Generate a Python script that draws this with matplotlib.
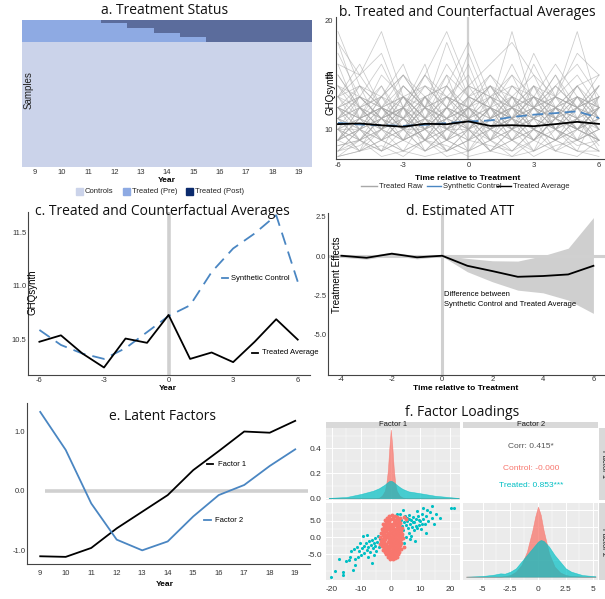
"""Painel de seis graficos: status, medias, ATT, fatores e loadings."""

import matplotlib
matplotlib.use("Agg")
import matplotlib.pyplot as plt
import numpy as np
from matplotlib.colors import ListedColormap
from matplotlib.lines import Line2D
from matplotlib.patches import Rectangle

W, H = 605, 599
TITLE_FONT = "Open Sans"
BODY_FONT = "Liberation Sans"

plt.rcParams.update({
    "font.family": BODY_FONT,
    "font.size": 5.5,
    "axes.unicode_minus": False,
    "axes.edgecolor": "#444444",
    "axes.linewidth": 0.8,
    "xtick.color": "#333333",
    "ytick.color": "#333333",
    "xtick.major.size": 0,
    "ytick.major.size": 0,
    "xtick.minor.size": 0,
    "ytick.minor.size": 0,
})

# paleta
C_CTRL = "#CBD3EA"
C_PRE = "#8EAAE3"
C_POST = "#5B6C9C"
C_POST_KEY = "#0B2A6D"
C_BLUE = "#4A86C2"
C_RAW = "#A8A8A8"
C_REF = "#D0D0D0"
C_RED = "#F8766D"
C_TEAL = "#00BFC4"
C_PANEL = "#EBEBEB"
C_STRIP = "#D9D9D9"

# ---- dados -------------------------------------------------------------
# a. status de tratamento
YEARS = list(range(9, 20))
COHORT_START = [12, 13, 14, 15, 16]
COHORT_SIZE = [20, 35, 35, 30, 30]
N_CONTROLS = 870

# b/c. medias tratadas e controle sintetico
REL_TIME = list(range(-6, 7))
TREATED_AVG = [10.48, 10.54, 10.37, 10.24, 10.51, 10.47, 10.73,
               10.32, 10.38, 10.29, 10.48, 10.69, 10.50]
SYNTH_CTRL = [10.59, 10.45, 10.37, 10.32, 10.42, 10.57, 10.72,
              10.82, 11.13, 11.35, 11.49, 11.66, 11.04]
RAW_SERIES = [
    [9, 11, 10, 12, 9, 10, 11, 8, 10, 9, 11, 10, 9],
    [12, 10, 13, 11, 10, 12, 14, 11, 13, 10, 12, 11, 13],
    [8, 9, 8, 10, 8, 9, 8, 9, 10, 8, 9, 8, 8],
    [15, 12, 11, 14, 12, 15, 13, 12, 16, 12, 11, 13, 12],
    [10, 8, 9, 8, 11, 9, 10, 12, 9, 11, 10, 9, 10],
    [11, 13, 12, 10, 13, 11, 12, 10, 11, 13, 12, 14, 11],
    [7.5, 8, 9, 8, 7.5, 8, 10, 8, 7.5, 9, 8, 7.5, 9],
    [13, 15, 12, 13, 11, 14, 12, 15, 12, 14, 13, 12, 15],
    [19, 14, 12, 11, 13, 10, 12, 11, 14, 12, 10, 12, 11],
    [9, 10, 12, 9, 10, 8, 9, 10, 8, 10, 9, 11, 8],
    [12, 11, 9, 12, 14, 12, 11, 13, 10, 12, 15, 11, 12],
    [10, 12, 11, 9, 10, 11, 13, 9, 12, 10, 9, 10, 11],
    [14, 11, 15, 13, 10, 12, 11, 14, 11, 16, 12, 13, 10],
    [8, 8.5, 10, 11, 9, 8, 9, 11, 9, 8, 10, 9, 10],
    [11, 9, 10, 13, 11, 9, 10, 12, 11, 9, 11, 12, 9],
    [17, 13, 11, 12, 15, 13, 10, 12, 13, 11, 14, 12, 14],
    [9, 12, 9, 10, 12, 10, 11, 9, 10, 12, 10, 8, 12],
    [12, 14, 13, 15, 12, 11, 14, 13, 12, 11, 13, 15, 12],
    [10, 9, 11, 10, 8, 10, 12, 10, 11, 9, 12, 10, 11],
    [13, 10, 12, 11, 13, 14, 11, 10, 14, 13, 11, 12, 13],
    [8, 10, 8, 9, 10, 9, 8, 10, 9, 11, 8, 9, 8],
    [11, 12, 10, 14, 12, 13, 15, 11, 12, 10, 12, 13, 11],
    [16, 15, 19, 13, 11, 12, 14, 13, 11, 12, 13, 11, 12],
    [9, 11, 10, 8, 9, 12, 10, 8, 10, 9, 11, 10, 9],
    [12, 13, 11, 12, 16, 10, 12, 14, 12, 13, 10, 11, 14],
    [10, 8, 12, 10, 11, 10, 9, 11, 12, 10, 9, 12, 10],
    [14, 12, 10, 13, 12, 18, 13, 12, 10, 14, 12, 10, 12],
    [8.5, 9, 11, 9, 8, 9, 11, 9, 8, 10, 9, 11, 8.5],
    [11, 10, 13, 12, 10, 11, 10, 13, 11, 12, 14, 12, 11],
    [13, 16, 12, 11, 14, 12, 16, 11, 13, 15, 11, 14, 12],
    [9, 10, 9, 11, 10, 12, 9, 10, 12, 11, 10, 9, 13],
    [12, 11, 14, 10, 12, 9, 13, 12, 10, 11, 13, 12, 10],
    [10, 13, 11, 12, 9, 11, 10, 12, 19, 12, 11, 10, 12],
    [11, 9, 12, 10, 13, 10, 12, 9, 11, 10, 12, 11, 9],
    [15, 12, 13, 16, 11, 13, 12, 14, 12, 13, 16, 13, 11],
    [9, 8, 10, 9, 11, 8, 10, 8, 9, 10, 8, 10, 9],
    [12, 10, 11, 13, 10, 14, 11, 13, 15, 11, 12, 10, 13],
    [10, 11, 9, 10, 12, 11, 8, 11, 10, 13, 10, 12, 10],
    [13, 11, 12, 10, 11, 13, 12, 10, 12, 11, 13, 19, 12],
    [11, 12, 10, 11, 9, 12, 11, 12, 10, 12, 9, 11, 10],
    [18, 15, 17, 12, 15, 19, 14, 16, 18, 15, 13, 17, 15],
    [7.5, 9, 7.5, 8, 9, 7.5, 8, 9, 7.5, 8, 9, 8, 7.5],
    [10, 11, 13, 10, 9, 11, 12, 10, 13, 11, 10, 13, 10],
    [8, 10, 9, 11, 9, 10, 9, 12, 9, 10, 11, 9, 11],
    [12, 9, 11, 12, 11, 15, 10, 11, 12, 14, 11, 10, 12],
    [14, 13, 16, 12, 13, 11, 13, 15, 13, 12, 14, 16, 13],
    [9, 12, 10, 9, 13, 9, 11, 10, 9, 12, 10, 11, 9],
    [11, 10, 8, 12, 10, 12, 10, 12, 11, 8, 12, 10, 12],
    [13, 12, 14, 11, 15, 12, 17, 12, 11, 13, 12, 14, 11],
    [10, 9, 10, 12, 8, 10, 11, 9, 13, 10, 9, 10, 12],
    [16, 11, 12, 14, 12, 11, 12, 13, 12, 17, 13, 12, 13],
    [7.5, 8, 8.5, 7.5, 9, 8.5, 7.5, 8, 9, 7.5, 8.5, 9, 8],
    [12, 13, 12, 13, 14, 13, 12, 14, 13, 12, 13, 12, 14],
    [9, 11, 12, 10, 11, 9, 12, 11, 10, 11, 12, 9, 10],
    [11, 14, 10, 12, 10, 13, 11, 10, 11, 14, 10, 13, 12],
    [10, 10, 11, 9, 12, 10, 10, 11, 12, 9, 11, 10, 11],
    [18, 12, 13, 15, 13, 14, 18, 13, 14, 12, 15, 12, 13],
    [8.5, 9, 8, 9, 10, 8, 9, 8.5, 8, 9, 10, 8.5, 9],
    [12, 11, 12, 11, 12, 13, 11, 12, 11, 12, 11, 13, 12],
    [11, 13, 11, 13, 11, 10, 13, 14, 11, 13, 12, 11, 14],
    [9, 10, 11, 10, 10, 11, 10, 9, 11, 10, 13, 10, 9],
    [13, 14, 12, 15, 12, 16, 13, 12, 15, 13, 11, 14, 15],
]

# d. ATT estimado
ATT_TIME = list(range(-4, 7))
ATT = [0.02, -0.11, 0.15, -0.08, 0.02, -0.62, -0.96, -1.32, -1.27, -1.17, -0.62]
ATT_LO = [-0.08, -0.2, 0.05, -0.18, -0.02, -1.0, -1.64, -2.17, -2.34, -2.8, -3.65]
ATT_HI = [0.12, 0.0, 0.25, 0.02, 0.05, -0.15, -0.3, -0.32, 0.02, 0.5, 2.45]

# e. fatores latentes
FACTOR1 = [-1.10, -1.11, -0.96, -0.63, -0.35, -0.07, 0.35, 0.67, 1.00, 0.98, 1.18]
FACTOR2 = [1.33, 0.69, -0.21, -0.82, -1.00, -0.85, -0.43, -0.07, 0.10, 0.42, 0.70]

# f. loadings: densidades marginais
F1_GRID = [-21, -15, -10, -6, -4, -3, -2, -1.5, -1, -0.5, 0, 0.5, 1, 1.5, 2,
           3, 4, 6, 10, 15, 23]
F1_DENS_CTRL = [0, 0, 0, 0, 0.004, 0.02, 0.06, 0.12, 0.22, 0.40, 0.55, 0.42,
                0.24, 0.12, 0.06, 0.02, 0.005, 0, 0, 0, 0]
F1_DENS_TREAT = [0.003, 0.01, 0.035, 0.06, 0.08, 0.095, 0.11, 0.12, 0.13, 0.138,
                 0.14, 0.136, 0.128, 0.118, 0.108, 0.09, 0.075, 0.055, 0.04,
                 0.02, 0.002]
F2_GRID = [-6.5, -5, -4, -3.4, -3, -2.5, -2, -1.5, -1, -0.5, -0.25, 0, 0.25,
           0.5, 1, 1.5, 2, 2.5, 3, 4, 5.2]
F2_DENS_CTRL = [0, 0, 0, 0, 0.003, 0.01, 0.03, 0.07, 0.15, 0.28, 0.36, 0.42,
                0.37, 0.28, 0.14, 0.06, 0.025, 0.01, 0.004, 0, 0]
F2_DENS_TREAT = [0.0, 0.004, 0.012, 0.02, 0.018, 0.03, 0.05, 0.09, 0.13, 0.17,
                 0.19, 0.21, 0.22, 0.215, 0.18, 0.13, 0.09, 0.05, 0.03, 0.01,
                 0.002]

# f. loadings: dispersao (fator 1, fator 2)
CTRL_PTS = [
    (-0.6, 6.6), (0.4, 6.9), (1.3, 6.4), (2.2, 6.1), (-1.4, 6.0), (0.9, 5.8),
    (3.0, 5.9), (-2.1, 5.3), (-1.0, 5.5), (0.0, 5.6), (1.0, 5.2), (2.0, 5.5),
    (2.8, 5.0), (-0.5, 4.9), (1.6, 4.8), (-1.6, 4.7), (-2.6, 4.2), (-1.9, 3.9),
    (-0.9, 4.3), (0.2, 4.1), (1.2, 4.4), (2.3, 4.1), (3.2, 4.3), (-0.3, 3.6),
    (0.8, 3.5), (1.8, 3.7), (2.9, 3.4), (-1.3, 3.4), (-2.4, 3.3), (-3.0, 2.7),
    (-2.0, 2.9), (-1.0, 2.6), (0.1, 2.9), (1.1, 2.6), (2.1, 2.8), (3.1, 2.5),
    (3.8, 2.9), (-2.5, 2.1), (-1.5, 2.0), (-0.4, 2.2), (0.6, 2.0), (1.6, 2.1),
    (2.6, 1.9), (3.5, 2.0), (-3.3, 1.4), (-2.2, 1.5), (-1.1, 1.3), (0.0, 1.5),
    (1.0, 1.2), (2.0, 1.4), (3.0, 1.3), (3.9, 1.1), (-2.7, 0.8), (-1.6, 0.7),
    (-0.5, 0.9), (0.5, 0.6), (1.5, 0.8), (2.5, 0.7), (3.5, 0.5), (-3.5, 0.1),
    (-2.3, 0.0), (-1.2, 0.2), (-0.1, -0.1), (0.9, 0.1), (1.9, -0.1), (2.9, 0.0),
    (4.0, -0.2), (-2.8, -0.6), (-1.8, -0.5), (-0.7, -0.7), (0.4, -0.5),
    (1.4, -0.6), (2.4, -0.7), (3.4, -0.5), (-3.2, -1.2), (-2.2, -1.1),
    (-1.1, -1.3), (0.0, -1.1), (1.0, -1.3), (2.0, -1.2), (3.0, -1.4),
    (-2.6, -1.8), (-1.5, -1.9), (-0.4, -1.7), (0.6, -1.9), (1.6, -1.8),
    (2.6, -1.9), (3.6, -1.6), (-3.0, -2.5), (-2.0, -2.4), (-0.9, -2.6),
    (0.2, -2.4), (1.2, -2.6), (2.2, -2.5), (3.2, -2.3), (-2.4, -3.1),
    (-1.3, -3.2), (-0.2, -3.0), (0.8, -3.2), (1.8, -3.1), (2.8, -3.0),
    (-2.6, -3.8), (-1.7, -3.9), (-0.6, -3.7), (0.4, -3.9), (1.4, -3.7),
    (2.4, -3.8), (3.3, -3.6), (-2.0, -4.5), (-1.0, -4.4), (0.0, -4.6),
    (1.0, -4.4), (2.0, -4.5), (2.9, -4.3), (-1.6, -5.1), (-0.6, -5.2),
    (0.5, -5.0), (1.5, -5.2), (2.4, -5.0), (-1.1, -5.8), (0.0, -5.9),
    (1.0, -5.7), (2.0, -5.8), (-0.4, -6.4), (0.6, -6.5), (1.5, -6.3),
    (4.6, 6.2), (5.2, 5.6), (-3.8, -2.0), (4.3, -3.0),
]
TREAT_PTS = [
    (-20.2, -11.8), (-16.3, -10.4), (-16.2, -11.3), (-17.6, -6.5),
    (-12.9, -9.8), (-13.4, -4.1), (-13.7, -5.8), (-12.1, -6.5), (-12.0, -8.3),
    (-11.1, -5.8), (-10.0, -5.3), (-8.9, -4.8), (-9.5, 0.5), (-6.5, -7.8),
    (-5.6, -5.3), (-15.0, -7.2), (-14.2, -6.9), (-10.8, -4.2), (-9.8, -3.2),
    (-9.0, -2.5), (-8.5, -1.6), (-8.2, -3.8), (-7.6, -2.9), (-7.3, -1.2),
    (-7.0, -4.4), (-6.8, -2.2), (-6.4, -0.8), (-6.1, -3.3), (-5.8, -1.8),
    (-5.5, -0.3), (-5.2, -2.6), (-4.9, -4.0), (-4.6, -1.4), (-4.3, 0.6),
    (-4.0, -2.9), (-3.8, -0.6), (-3.4, 1.5), (-11.5, -2.8), (-10.4, -1.7),
    (-8.0, 0.9), (-12.6, -3.5), (-7.8, -6.0), (-19.0, -10.0),
    (4.0, 8.3), (12.4, 8.3), (20.3, 9.0), (21.4, 9.0), (2.0, 7.0), (3.2, 7.0),
    (4.8, 6.5), (5.5, 5.8), (6.2, 6.9), (6.8, 5.2), (7.4, 6.1), (8.0, 4.6),
    (8.6, 5.5), (9.2, 6.4), (9.8, 4.9), (10.4, 7.2), (11.0, 5.7), (11.6, 4.2),
    (12.0, 6.6), (13.2, 7.6), (14.0, 5.8), (15.2, 7.0), (16.5, 6.0),
    (13.8, 9.5), (10.8, 9.0), (8.8, 8.1), (5.0, 3.8), (5.8, 2.9), (6.5, 4.0),
    (7.2, 3.1), (7.8, 2.2), (8.4, 3.6), (9.0, 2.8), (9.6, 3.9), (10.2, 2.5),
    (4.2, 2.2), (4.6, 4.6), (3.6, 5.2), (6.0, 1.4), (7.0, 0.6), (3.9, 0.8),
    (5.2, 0.2), (6.6, -0.5), (11.8, 1.5), (8.2, -1.0), (4.4, -1.8), (3.8, 3.5),
    (5.4, 5.0), (6.3, 5.6), (7.6, 4.7), (9.4, 5.2), (10.6, 4.0), (12.6, 4.9),
    (14.6, 4.0),
]


# ---- helpers -----------------------------------------------------------
def box(left, top, right, bottom):
    """Retangulo em pixels (origem topo-esquerda) -> coords da figura."""
    return [left / W, 1 - bottom / H, (right - left) / W, (bottom - top) / H]


def fx(x):
    return x / W


def fy(y):
    return 1 - y / H


def title(x, y, text):
    fig.text(fx(x), fy(y), text, family=TITLE_FONT, fontsize=10,
             ha="center", va="center", color="#111111")


def lspine(ax):
    ax.spines["top"].set_visible(False)
    ax.spines["right"].set_visible(False)


def gg_panel(ax):
    ax.set_facecolor(C_PANEL)
    for s in ax.spines.values():
        s.set_visible(False)
    ax.grid(True, which="major", color="white", linewidth=0.7)
    ax.grid(True, which="minor", color="white", linewidth=0.35)
    ax.set_axisbelow(True)


fig = plt.figure(figsize=(W / 100, H / 100), dpi=100)

# ---- a. Treatment Status ----------------------------------------------
rows = []
for start, size in zip(COHORT_START, COHORT_SIZE):
    rows += [[2 if yr >= start else 1 for yr in YEARS]] * size
rows += [[0] * len(YEARS)] * N_CONTROLS
status = np.array(rows)

ax = fig.add_axes(box(22, 20, 312, 167))
ax.imshow(status, cmap=ListedColormap([C_CTRL, C_PRE, C_POST]), vmin=0, vmax=2,
          aspect="auto", interpolation="nearest",
          extent=(YEARS[0] - 0.5, YEARS[-1] + 0.5, len(status), 0))
for s in ax.spines.values():
    s.set_visible(False)
ax.set_xticks(YEARS)
ax.set_yticks([])
ax.tick_params(axis="x", pad=1.5)
ax.text(0.022, 0.52, "Samples", transform=ax.transAxes, rotation=90,
        ha="center", va="center", fontsize=7, color="#222222")
title(165, 11, "a. Treatment Status")
fig.text(fx(167), fy(181), "Year", fontsize=6, weight="bold", ha="center", va="center")
for x0, colour, label in [(76, C_CTRL, "Controls"), (123, C_PRE, "Treated (Pre)"),
                          (186, C_POST_KEY, "Treated (Post)")]:
    fig.add_artist(Rectangle((fx(x0), fy(194.5)), 7 / W, 7 / H, color=colour))
    fig.text(fx(x0 + 9), fy(191), label, fontsize=5.5, ha="left", va="center",
             color="#222222")

# ---- b. Treated and Counterfactual Averages (raw) ---------------------
ax = fig.add_axes(box(336, 17, 604, 159))
for series in RAW_SERIES:
    ax.plot(REL_TIME, series, color=C_RAW, linewidth=0.55, alpha=0.6)
ax.axvline(0, color=C_REF, linewidth=1.6, zorder=1)
ax.plot(REL_TIME, SYNTH_CTRL, color=C_BLUE, linewidth=1.3, dashes=(6, 3), zorder=3)
ax.plot(REL_TIME, TREATED_AVG, color="black", linewidth=1.3, zorder=4)
ax.set_xlim(-6.09, 6.23)
ax.set_ylim(7.27, 20.34)
ax.set_xticks([-6, -3, 0, 3, 6])
ax.set_yticks([10, 15, 20])
ax.tick_params(axis="x", pad=2)
ax.tick_params(axis="y", pad=2)
lspine(ax)
fig.text(fx(331), fy(92), "GHQsynth", rotation=90, fontsize=7, ha="center", va="center")
title(467, 13, "b. Treated and Counterfactual Averages")
fig.text(fx(468), fy(179), "Time relative to Treatment", fontsize=6, weight="bold",
         ha="center", va="center")
for x0, x1, colour, label in [(361, 377, C_RAW, "Treated Raw"),
                              (427, 441, C_BLUE, "Synthetic Control"),
                              (497, 511, "black", "Treated Average")]:
    fig.add_artist(Line2D([fx(x0), fx(x1)], [fy(186), fy(186)], color=colour,
                          linewidth=1.0))
    fig.text(fx(x1 + 2), fy(186), label, fontsize=5.5, ha="left", va="center",
             color="#222222")

# ---- c. Treated and Counterfactual Averages ---------------------------
ax = fig.add_axes(box(28, 212, 310, 375))
ax.axvline(0, color=C_REF, linewidth=2.6, zorder=1)
ax.plot(REL_TIME, SYNTH_CTRL, color=C_BLUE, linewidth=1.3, dashes=(7, 4), zorder=3)
ax.plot(REL_TIME, TREATED_AVG, color="black", linewidth=1.3, zorder=4)
ax.set_xlim(-6.53, 6.57)
ax.set_ylim(10.17, 11.69)
ax.set_xticks([-6, -3, 0, 3, 6])
ax.set_yticks([10.5, 11.0, 11.5])
ax.set_yticklabels(["10.5", "11.0", "11.5"])
ax.tick_params(axis="x", pad=1.5)
ax.tick_params(axis="y", pad=1)
lspine(ax)
ax.plot([0.688, 0.709], [0.595, 0.595], transform=ax.transAxes, color=C_BLUE,
        linewidth=1.3, clip_on=False)
ax.text(0.72, 0.595, "Synthetic Control", transform=ax.transAxes, fontsize=5.5,
        ha="left", va="center")
ax.plot([0.794, 0.816], [0.135, 0.135], transform=ax.transAxes, color="black",
        linewidth=1.3, clip_on=False)
ax.text(0.83, 0.135, "Treated Average", transform=ax.transAxes, fontsize=5.5,
        ha="left", va="center", clip_on=False)
fig.text(fx(33), fy(292), "GHQsynth", rotation=90, fontsize=7, ha="center", va="center")
title(162, 212, "c. Treated and Counterfactual Averages")
fig.text(fx(168), fy(389), "Year", fontsize=6, weight="bold", ha="center", va="center")

# ---- d. Estimated ATT --------------------------------------------------
ax = fig.add_axes(box(328, 213, 605, 375))
ax.fill_between(ATT_TIME, ATT_LO, ATT_HI, color="#CFCFCF", linewidth=0, zorder=1)
ax.axhline(0, color=C_REF, linewidth=2.2, zorder=2)
ax.axvline(0, color=C_REF, linewidth=2.2, zorder=2)
ax.plot(ATT_TIME, ATT, color="black", linewidth=1.3, zorder=4)
ax.set_xlim(-4.53, 6.46)
ax.set_ylim(-7.57, 2.74)
ax.set_xticks([-4, -2, 0, 2, 4, 6])
ax.set_yticks([-5.0, -2.5, 0.0, 2.5])
ax.set_yticklabels(["-5.0", "-2.5", "0.0", "2.5"])
ax.tick_params(axis="x", pad=0.5)
ax.tick_params(axis="y", pad=1)
lspine(ax)
ax.text(0.08, -2.75, "Difference between\nSynthetic Control and Treated Average",
        fontsize=5.5, ha="left", va="center", linespacing=1.5)
fig.text(fx(336.5), fy(275), "Treatment Effects", rotation=90, fontsize=7,
         ha="center", va="center")
title(460, 212, "d. Estimated ATT")
fig.text(fx(466), fy(389), "Time relative to Treatment", fontsize=6, weight="bold",
         ha="center", va="center")

# ---- e. Latent Factors -------------------------------------------------
ax = fig.add_axes(box(26.7, 403, 310, 564))
ax.hlines(0, 9.2, 19.5, color=C_REF, linewidth=2.6, zorder=1)
ax.plot(YEARS, FACTOR1, color="black", linewidth=1.3, zorder=3)
ax.plot(YEARS, FACTOR2, color=C_BLUE, linewidth=1.3, zorder=3)
ax.set_xlim(8.47, 19.58)
ax.set_ylim(-1.23, 1.48)
ax.set_xticks(YEARS)
ax.set_yticks([-1.0, 0.0, 1.0])
ax.set_yticklabels(["-1.0", "0.0", "1.0"])
ax.tick_params(axis="x", pad=4)
ax.tick_params(axis="y", pad=1)
lspine(ax)
ax.plot([0.637, 0.658], [0.621, 0.621], transform=ax.transAxes, color="black",
        linewidth=1.3)
ax.text(0.675, 0.621, "Factor 1", transform=ax.transAxes, fontsize=5.5,
        ha="left", va="center")
ax.plot([0.626, 0.651], [0.273, 0.273], transform=ax.transAxes, color=C_BLUE,
        linewidth=1.3)
ax.text(0.665, 0.273, "Factor 2", transform=ax.transAxes, fontsize=5.5,
        ha="left", va="center")
ax.text(0.478, 0.919, "e. Latent Factors", transform=ax.transAxes,
        family=TITLE_FONT, fontsize=10, ha="center", va="center", color="#111111")
fig.text(fx(165), fy(585), "Year", fontsize=6, weight="bold", ha="center", va="center")

# ---- f. Factor Loadings ------------------------------------------------
title(462, 412, "f. Factor Loadings")
F1_LIM = (-21.9, 23.4)
F2_LIM = (-6.75, 5.45)

ax = fig.add_axes(box(326, 428.3, 460, 500))
gg_panel(ax)
ax.fill_between(F1_GRID, F1_DENS_CTRL, color=C_RED, alpha=0.75, linewidth=0.4)
ax.fill_between(F1_GRID, F1_DENS_TREAT, color=C_TEAL, alpha=0.7, linewidth=0.4)
ax.set_xlim(*F1_LIM)
ax.set_ylim(-0.014, 0.56)
ax.set_xticks([-20, -10, 0, 10, 20])
ax.set_xticks([-15, -5, 5, 15], minor=True)
ax.set_yticks([0.0, 0.2, 0.4])
ax.set_yticks([0.1, 0.3, 0.5], minor=True)
ax.set_yticklabels(["0.0", "0.2", "0.4"])
ax.tick_params(axis="x", labelbottom=False)
ax.tick_params(axis="y", pad=3, labelsize=6)

ax = fig.add_axes(box(463.3, 428.3, 598.3, 500))
ax.set_facecolor("white")
for s in ax.spines.values():
    s.set_visible(False)
ax.set_xticks([])
ax.set_yticks([])
ax.text(0.5, 0.74, "Corr: 0.415*", transform=ax.transAxes, fontsize=6,
        ha="center", va="center", color="#555555")
ax.text(0.5, 0.44, "Control: -0.000", transform=ax.transAxes, fontsize=6,
        ha="center", va="center", color=C_RED)
ax.text(0.5, 0.2, "Treated: 0.853***", transform=ax.transAxes, fontsize=6,
        ha="center", va="center", color=C_TEAL)

ax = fig.add_axes(box(326, 503.3, 460, 580))
gg_panel(ax)
tx, ty = zip(*TREAT_PTS)
cx, cy = zip(*CTRL_PTS)
ax.scatter(tx, ty, s=5, color=C_TEAL, linewidths=0)
ax.scatter(cx, cy, s=8, color=C_RED, linewidths=0)
ax.set_xlim(*F1_LIM)
ax.set_ylim(-12.8, 10.3)
ax.set_xticks([-20, -10, 0, 10, 20])
ax.set_xticks([-15, -5, 5, 15], minor=True)
ax.set_yticks([-5, 0, 5])
ax.set_yticks([-10, -2.5, 2.5, 7.5], minor=True)
ax.set_yticklabels(["-5.0", "0.0", "5.0"])
ax.tick_params(axis="x", pad=4, labelsize=6)
ax.tick_params(axis="y", pad=3, labelsize=6)

ax = fig.add_axes(box(463.3, 503.3, 598.3, 580))
gg_panel(ax)
ax.fill_between(F2_GRID, F2_DENS_CTRL, color=C_RED, alpha=0.75, linewidth=0.4)
ax.fill_between(F2_GRID, F2_DENS_TREAT, color=C_TEAL, alpha=0.7, linewidth=0.4)
ax.set_xlim(*F2_LIM)
ax.set_ylim(-0.02, 0.44)
ax.set_xticks([-5, -2.5, 0, 2.5, 5])
ax.set_xticklabels(["-5", "-2.5", "0", "2.5", "5"])
ax.set_xticks([-3.75, -1.25, 1.25, 3.75], minor=True)
ax.set_yticks([0.1, 0.2, 0.3, 0.4])
ax.tick_params(axis="x", pad=4, labelsize=6)
ax.tick_params(axis="y", labelleft=False)

# strips de facetas
for left, right, label in [(326, 460, "Factor 1"), (463.3, 598.3, "Factor 2")]:
    fig.add_artist(Rectangle((fx(left), fy(428.3)), (right - left) / W, 6.8 / H,
                             color=C_STRIP, linewidth=0))
    fig.text(fx((left + right) / 2), fy(424.8), label, fontsize=5.5,
             ha="center", va="center", color="#1A1A1A")
for top, bottom, label in [(428.3, 500, "Factor 1"), (503.3, 580, "Factor 2")]:
    fig.add_artist(Rectangle((fx(598.8), fy(bottom)), 6.2 / W, (bottom - top) / H,
                             color=C_STRIP, linewidth=0))
    fig.text(fx(603.5), fy((top + bottom) / 2), label, fontsize=5.5, rotation=-90,
             ha="center", va="center", color="#1A1A1A")

fig.savefig("out.png", dpi=100, facecolor="white")
